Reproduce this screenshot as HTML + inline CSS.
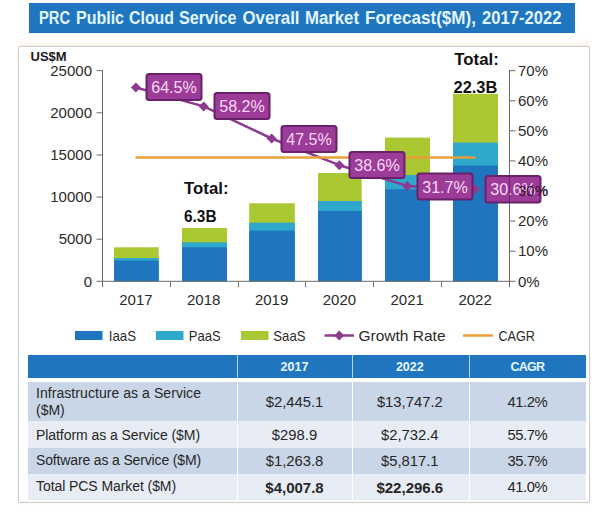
<!DOCTYPE html>
<html>
<head>
<meta charset="utf-8">
<title>PRC Public Cloud Service Overall Market Forecast</title>
<style>
html,body{margin:0;padding:0;background:#fff;}
body{width:600px;height:510px;position:relative;overflow:hidden;font-family:"Liberation Sans",sans-serif;color:#262626;}
.banner{position:absolute;left:29px;top:3px;width:546px;height:29.5px;background:#1f76bf;color:#e2f6ff;font-weight:bold;font-size:18px;line-height:30px;white-space:nowrap;}
.banner span{position:absolute;left:10px;top:0;transform:scaleX(0.925);transform-origin:0 50%;}
.frame{position:absolute;left:18px;top:46px;width:572px;height:457px;border:1px solid #cbcbcb;box-sizing:border-box;box-shadow:0 0 2px rgba(0,0,0,0.08);background:#fff;border-radius:2px;}
.tint{position:absolute;left:19px;top:39px;width:570px;height:7px;background:linear-gradient(to bottom,rgba(252,244,232,0),rgba(252,244,232,0.85));}
svg{position:absolute;left:0;top:0;}
svg text{font-family:"Liberation Sans",sans-serif;}
.tbl{position:absolute;left:28px;top:355px;width:558px;}
.row{position:absolute;left:0;width:558px;}
.cell{position:absolute;top:0;height:100%;box-sizing:border-box;}
.hd{background:#1f76bf;color:#e8f6ff;font-weight:bold;font-size:12.5px;text-align:center;}
.c1{left:0;width:209px;}
.c2{left:210px;width:114px;}
.c3{left:325px;width:116px;}
.c3 .fit{position:relative;left:-1.2px}.c4 .fit{position:relative;left:-0.6px;letter-spacing:-0.45px}.c2 .fit{position:relative;left:-0.5px}
.c4{left:442px;width:116px;}
.lab{font-size:14px;padding-left:8px;line-height:17px;text-align:left;}
.num{font-size:14.8px;text-align:center;}
.fit{display:inline-block;white-space:nowrap;}
.dk .cell{background:#c9d6e7;}
.lt .cell{background:#e8edf5;}
.b{font-weight:bold;font-size:15px;}
#h3{letter-spacing:-0.8px;}
#l1{letter-spacing:0.06px}#l2{letter-spacing:-0.065px}#l3{letter-spacing:-0.15px}#l4{letter-spacing:-0.075px}
</style>
</head>
<body>
<div class="banner"></div>
<div class="tint"></div>
<div class="frame"></div>

<svg width="600" height="510" viewBox="0 0 600 510">
  <!-- title -->
  <g font-size="18" font-weight="bold" fill="#e2f6ff">
    <text x="39" y="23.8" textLength="31" lengthAdjust="spacingAndGlyphs">PRC</text>
    <text x="76" y="23.8" textLength="48" lengthAdjust="spacingAndGlyphs">Public</text>
    <text x="129" y="23.8" textLength="45" lengthAdjust="spacingAndGlyphs">Cloud</text>
    <text x="179" y="23.8" textLength="57.5" lengthAdjust="spacingAndGlyphs">Service</text>
    <text x="242.5" y="23.8" textLength="57.0" lengthAdjust="spacingAndGlyphs">Overall</text>
    <text x="305" y="23.8" textLength="54" lengthAdjust="spacingAndGlyphs">Market</text>
    <text x="365" y="23.8" textLength="111" lengthAdjust="spacingAndGlyphs">Forecast($M),</text>
    <text x="482" y="23.8" textLength="79.5" lengthAdjust="spacingAndGlyphs">2017-2022</text>
  </g>
  <!-- bars -->
  <g>
    <rect x="114" y="247.3" width="44.7" height="34.0" fill="#a9c832"/>
    <rect x="114" y="258" width="44.7" height="23.3" fill="#2fa8cc"/>
    <rect x="114" y="260.5" width="44.7" height="20.8" fill="#1f76bf"/>
    <rect x="182" y="228" width="45" height="53.3" fill="#a9c832"/>
    <rect x="182" y="242.3" width="45" height="39.0" fill="#2fa8cc"/>
    <rect x="182" y="247.3" width="45" height="34.0" fill="#1f76bf"/>
    <rect x="249.2" y="203.3" width="45.6" height="78.0" fill="#a9c832"/>
    <rect x="249.2" y="222.7" width="45.6" height="58.6" fill="#2fa8cc"/>
    <rect x="249.2" y="230.7" width="45.6" height="50.6" fill="#1f76bf"/>
    <rect x="318" y="173" width="43.7" height="108.3" fill="#a9c832"/>
    <rect x="318" y="201" width="43.7" height="80.3" fill="#2fa8cc"/>
    <rect x="318" y="211" width="43.7" height="70.3" fill="#1f76bf"/>
    <rect x="385" y="137.6" width="45" height="143.7" fill="#a9c832"/>
    <rect x="385" y="175" width="45" height="106.3" fill="#2fa8cc"/>
    <rect x="385" y="189.3" width="45" height="92.0" fill="#1f76bf"/>
    <rect x="453" y="93.8" width="45" height="187.5" fill="#a9c832"/>
    <rect x="453" y="142.6" width="45" height="138.7" fill="#2fa8cc"/>
    <rect x="453" y="165.5" width="45" height="115.8" fill="#1f76bf"/>
  </g>

  <!-- axes -->
  <g stroke="#6a6a6a" stroke-width="1" fill="none">
    <path d="M102.5 70.2 V287" shape-rendering="crispEdges"/>
    <path d="M96.5 281.3 H515.5"/>
    <path d="M509.5 70.2 V282" shape-rendering="crispEdges"/>
    <path d="M96.5 70.7 H102 M96.5 112.8 H102 M96.5 155.0 H102 M96.5 197.1 H102 M96.5 239.2 H102"/>
    <path d="M510 70.7 H515.5 M510 100.8 H515.5 M510 130.8 H515.5 M510 160.9 H515.5 M510 191.0 H515.5 M510 221.1 H515.5 M510 251.2 H515.5"/>
    <path d="M170.5 282 V287 M238.5 282 V287 M305.5 282 V287 M373.5 282 V287 M441.5 282 V287 M509.5 282 V287" shape-rendering="crispEdges"/>
  </g>

  <!-- left axis labels -->
  <g font-size="15" fill="#2a2a2a" text-anchor="end">
    <text x="92" y="75.5">25000</text>
    <text x="92" y="117.5">20000</text>
    <text x="92" y="159.5">15000</text>
    <text x="92" y="201.5">10000</text>
    <text x="92" y="243.9">5000</text>
    <text x="92" y="286.6">0</text>
  </g>
  <text x="30.5" y="61" font-size="13" font-weight="bold" fill="#1a1a1a">US$M</text>

  <!-- right axis labels -->
  <g font-size="15" fill="#2a2a2a">
    <text x="518" y="75.5">70%</text>
    <text x="518" y="105.5">60%</text>
    <text x="518" y="135.5">50%</text>
    <text x="518" y="165.5">40%</text>
    <text x="518" y="195.5">30%</text>
    <text x="518" y="225.5">20%</text>
    <text x="518" y="255.5">10%</text>
    <text x="518" y="286.7">0%</text>
  </g>

  <!-- year labels -->
  <g font-size="15" fill="#2a2a2a" text-anchor="middle">
    <text x="135.9" y="304.5">2017</text>
    <text x="203.7" y="304.5">2018</text>
    <text x="271.6" y="304.5">2019</text>
    <text x="339.4" y="304.5">2020</text>
    <text x="407.2" y="304.5">2021</text>
    <text x="475.1" y="304.5">2022</text>
  </g>

  <!-- Totals -->
  <g font-size="16.5" font-weight="bold" fill="#111">
    <text x="184" y="193.8" textLength="44.5" lengthAdjust="spacingAndGlyphs">Total:</text>
    <text x="184" y="221.9" textLength="32.5" lengthAdjust="spacingAndGlyphs">6.3B</text>
    <text x="454.3" y="65" textLength="44.5" lengthAdjust="spacingAndGlyphs">Total:</text>
    <text x="453.5" y="93" textLength="43.8" lengthAdjust="spacingAndGlyphs">22.3B</text>
  </g>

  <!-- growth line -->
  <polyline points="135.9,87.5 203.7,106.4 271.6,138.5 339.4,165.2 407.2,185.9 475.1,189.2" fill="none" stroke="#8e3a90" stroke-width="2.5" stroke-linejoin="round"/>
  <g fill="#8e3a90">
    <path d="M135.9 82.5 l5 5 l-5 5 l-5 -5z"/>
    <path d="M203.7 101.4 l5 5 l-5 5 l-5 -5z"/>
    <path d="M271.6 133.5 l5 5 l-5 5 l-5 -5z"/>
    <path d="M339.4 160.2 l5 5 l-5 5 l-5 -5z"/>
    <path d="M407.2 180.9 l5 5 l-5 5 l-5 -5z"/>
    <path d="M475.1 184.2 l5 5 l-5 5 l-5 -5z"/>
  </g>

  <!-- CAGR line -->
  <path d="M135.5 157.5 H475.5" stroke="#e9a03a" stroke-width="2.5" fill="none"/>

  <!-- data labels -->
  <g>
    <g fill="#9c3c98" stroke="#692169" stroke-width="2" rx="2">
      <rect x="146.5" y="74" width="55" height="26" rx="2.5"/>
      <rect x="214.5" y="93" width="55" height="26" rx="2.5"/>
      <rect x="281.5" y="126" width="55" height="26" rx="2.5"/>
      <rect x="349.5" y="152" width="55" height="26" rx="2.5"/>
      <rect x="417.5" y="173.6" width="55" height="26" rx="2.5"/>
      <rect x="485.5" y="176" width="55" height="26.4" rx="2.5"/>
    </g>
    <g font-size="17" fill="#f7d9f3" text-anchor="middle">
      <text x="174" y="93.0" textLength="45.5" lengthAdjust="spacingAndGlyphs">64.5%</text>
      <text x="242" y="112.0" textLength="45.5" lengthAdjust="spacingAndGlyphs">58.2%</text>
      <text x="309" y="145.0" textLength="45.5" lengthAdjust="spacingAndGlyphs">47.5%</text>
      <text x="377" y="171.0" textLength="45.5" lengthAdjust="spacingAndGlyphs">38.6%</text>
      <text x="445" y="192.6" textLength="45.5" lengthAdjust="spacingAndGlyphs">31.7%</text>
      <text x="513" y="195.0" textLength="45.5" lengthAdjust="spacingAndGlyphs">30.6%</text>
    </g>
    <path d="M509.5 177 V201.5" stroke="#5e1f62" stroke-width="1" opacity="0.7" shape-rendering="crispEdges"/>
    <text x="518" y="195.5" font-size="15" fill="#2a0f2e" opacity="0.9">30%</text>
  </g>

  <!-- legend -->
  <rect x="75" y="331" width="27.5" height="9" fill="#1f76bf"/>
  <rect x="156" y="331" width="27.5" height="9" fill="#2fa8cc"/>
  <rect x="241" y="331" width="27.5" height="9" fill="#a9c832"/>
  <path d="M324.5 335.5 H354" stroke="#8e3a90" stroke-width="2.5"/>
  <path d="M339.3 330.5 l5 5 l-5 5 l-5 -5z" fill="#8e3a90"/>
  <path d="M463 335.5 H493" stroke="#e9a03a" stroke-width="2.5"/>
  <g font-size="15" fill="#2a2a2a" lengthAdjust="spacingAndGlyphs">
    <text x="108.8" y="340.8" textLength="27.3" lengthAdjust="spacingAndGlyphs">IaaS</text>
    <text x="188.8" y="340.8" textLength="32" lengthAdjust="spacingAndGlyphs">PaaS</text>
    <text x="273.3" y="340.8" textLength="32.2" lengthAdjust="spacingAndGlyphs">SaaS</text>
    <text x="358.5" y="340.8" textLength="87" lengthAdjust="spacingAndGlyphs">Growth Rate</text>
    <text x="498.5" y="340.8" textLength="36.5" lengthAdjust="spacingAndGlyphs">CAGR</text>
  </g>
</svg>

<div class="tbl">
  <div class="row" style="top:0;height:22.5px;line-height:24.5px;background:#b5d5ef;">
    <div class="cell hd c1"></div>
    <div class="cell hd c2"><span class="fit" id="h1">2017</span></div>
    <div class="cell hd c3"><span class="fit" id="h2">2022</span></div>
    <div class="cell hd c4"><span class="fit" id="h3">CAGR</span></div>
  </div>
  <div class="row dk" style="top:27px;height:39px;">
    <div class="cell c1 lab" style="padding-top:3px;"><span id="l1" class="fit">Infrastructure as a Service</span><br><span id="l1b" class="fit">($M)</span></div>
    <div class="cell c2 num" style="line-height:40px;"><span class="fit" id="n11">$2,445.1</span></div>
    <div class="cell c3 num" style="line-height:40px;"><span class="fit" id="n12">$13,747.2</span></div>
    <div class="cell c4 num" style="line-height:40px;"><span class="fit" id="n13">41.2%</span></div>
  </div>
  <div class="row lt" style="top:66px;height:26.5px;line-height:29.5px;">
    <div class="cell c1 lab" style="line-height:28.5px;"><span id="l2" class="fit">Platform as a Service ($M)</span></div>
    <div class="cell c2 num"><span class="fit" id="n21">$298.9</span></div>
    <div class="cell c3 num"><span class="fit" id="n22">$2,732.4</span></div>
    <div class="cell c4 num"><span class="fit" id="n23">55.7%</span></div>
  </div>
  <div class="row dk" style="top:92.5px;height:26.5px;line-height:27.5px;">
    <div class="cell c1 lab" style="line-height:25.5px;"><span id="l3" class="fit">Software as a Service ($M)</span></div>
    <div class="cell c2 num"><span class="fit" id="n31">$1,263.8</span></div>
    <div class="cell c3 num"><span class="fit" id="n32">$5,817.1</span></div>
    <div class="cell c4 num"><span class="fit" id="n33">35.7%</span></div>
  </div>
  <div class="row lt" style="top:119px;height:25.5px;line-height:27px;">
    <div class="cell c1 lab" style="line-height:25.5px;"><span id="l4" class="fit">Total PCS Market ($M)</span></div>
    <div class="cell c2 num b"><span class="fit" id="n41">$4,007.8</span></div>
    <div class="cell c3 num b"><span class="fit" id="n42">$22,296.6</span></div>
    <div class="cell c4 num"><span class="fit" id="n43">41.0%</span></div>
  </div>
</div>
</body>
</html>
